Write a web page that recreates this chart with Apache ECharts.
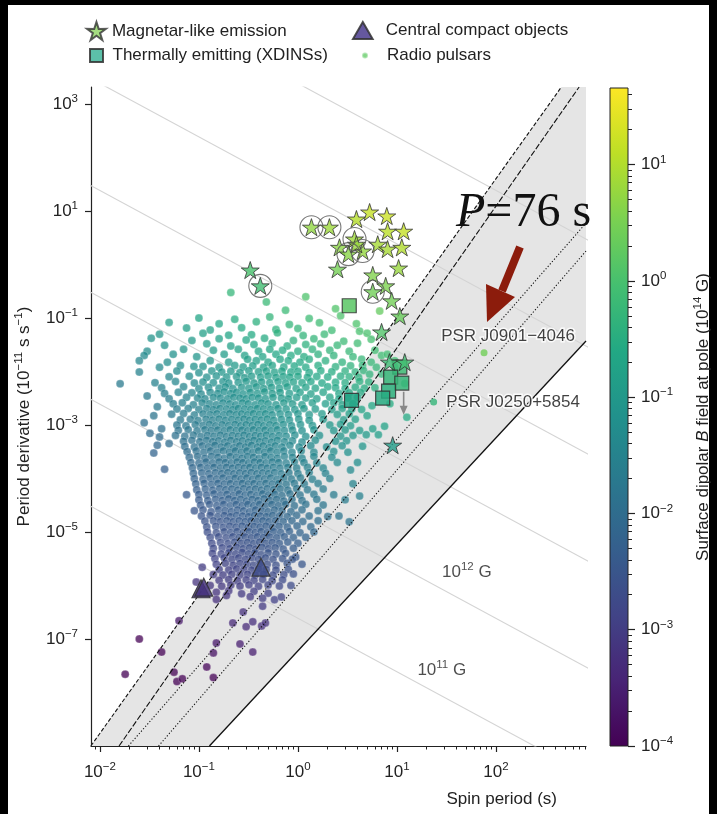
<!DOCTYPE html>
<html>
<head>
<meta charset="utf-8">
<script src="https://cdn.jsdelivr.net/npm/echarts@6.0.0/dist/echarts.min.js"></script>
<style>
html,body{margin:0;padding:0;background:#000;}
#paper{position:absolute;left:8px;top:5px;width:701px;height:809px;background:#fff;}
#chart{position:absolute;left:0;top:0;width:717px;height:814px;}
</style>
</head>
<body>
<div id="paper"></div>
<div id="chart"></div>
<script>
// ---------------- DATA ----------------
const xTickExponents = [-2, -1, 0, 1, 2];
const yTickExponents = [-7, -5, -3, -1, 1, 3];
const cbTickExponents = [-4, -3, -2, -1, 0, 1];

// Radio pulsars: [spin period P (s), period derivative (1e-11 s/s)]
const radioPulsars = [
[0.21,0.3],[0.48,0.2],[1.2,0.25],[0.75,0.14],[2.4,0.15],
[0.1,0.1],[0.23,0.095],[0.52,0.105],[1.3,0.098],[2.7,0.11],[6.7,0.135],
[0.05,0.083],[0.16,0.078],[0.38,0.085],[0.82,0.076],[1.65,0.082],[3.9,0.078],
[0.075,0.065],[0.13,0.06],[0.27,0.066],[0.6,0.061],[1.0,0.064],[2.2,0.059],[4.2,0.057],
[0.04,0.05],[0.11,0.052],[0.2,0.048],[0.34,0.049],[0.62,0.053],[1.13,0.047],[1.85,0.05],[5.0,0.052],
[0.033,0.042],[0.085,0.038],[0.16,0.041],[0.3,0.039],[0.46,0.042],[0.9,0.038],[1.45,0.041],[2.9,0.037],[5.5,0.04],
[0.045,0.031],[0.12,0.033],[0.21,0.03],[0.36,0.032],[0.55,0.034],[0.78,0.03],[1.2,0.032],[1.7,0.033],[2.5,0.031],[4.0,0.034],
[0.03,0.024],[0.07,0.026],[0.14,0.025],[0.25,0.026],[0.4,0.024],[0.52,0.026],[0.7,0.025],[1.0,0.024],[1.4,0.026],[2.1,0.025],[3.3,0.024],[6.0,0.025],
[0.028,0.02],[0.055,0.021],[0.095,0.019],[0.18,0.021],[0.29,0.02],[0.44,0.019],[0.6,0.021],[0.85,0.02],[1.15,0.019],[1.6,0.021],[2.3,0.02],[3.6,0.019],[7.0,0.02],[8,0.021],
[0.025,0.016],[0.048,0.015],[0.089,0.0125],[0.13,0.016],[0.2,0.015],[0.31,0.017],[0.38,0.016],[0.5,0.015],[0.66,0.017],[0.8,0.016],[1.05,0.015],[1.3,0.017],[1.9,0.016],[2.8,0.015],[4.4,0.017],[5.5,0.015],[9.5,0.016],
[0.04,0.012],[0.065,0.013],[0.11,0.0125],[0.16,0.012],[0.23,0.013],[0.28,0.0122],[0.35,0.0128],[0.45,0.012],[0.55,0.013],[0.72,0.0122],[0.92,0.0127],[1.2,0.012],[1.6,0.013],[2.4,0.0123],[3.4,0.0128],[4.5,0.013],[6.2,0.012],
[0.025,0.0098],[0.06,0.0102],[0.1,0.0095],[0.135,0.0103],[0.17,0.0098],[0.21,0.0101],[0.26,0.0096],[0.32,0.0104],[0.4,0.0099],[0.48,0.0102],[0.58,0.0097],[0.69,0.0103],[0.85,0.0098],[1.0,0.0101],[1.3,0.0096],[1.7,0.0104],[2.2,0.0099],[3.0,0.0102],[3.8,0.0098],[4.6,0.0105],[5.3,0.0089],
[0.05,8e-3],[0.08,8.2e-3],[0.12,7.8e-3],[0.15,8.3e-3],[0.19,7.9e-3],[0.24,8.1e-3],[0.29,7.7e-3],[0.34,8.2e-3],[0.42,7.9e-3],[0.5,8.3e-3],[0.6,7.8e-3],[0.71,8.1e-3],[0.83,7.9e-3],[1.0,8.2e-3],[1.25,7.8e-3],[1.55,8.1e-3],[2.0,7.9e-3],[2.7,8.2e-3],[3.3,8e-3],[4.1,7.8e-3],[7,9e-3],
[0.016,5.9e-3],[0.036,6.2e-3],[0.058,6.5e-3],[0.09,6.1e-3],[0.11,6.4e-3],[0.14,6.2e-3],[0.175,6.5e-3],[0.2,6.1e-3],[0.25,6.3e-3],[0.3,6.6e-3],[0.36,6.1e-3],[0.43,6.4e-3],[0.52,6.2e-3],[0.63,6.5e-3],[0.75,6.1e-3],[0.9,6.4e-3],[1.1,6.2e-3],[1.35,6.5e-3],[1.75,6.1e-3],[2.4,6.3e-3],[3.0,6.2e-3],[4.2,6.6e-3],[5.2,6.4e-3],[9.5,0.012],
[0.042,5e-3],[0.07,5.2e-3],[0.1,4.8e-3],[0.125,5.1e-3],[0.16,4.9e-3],[0.185,5.2e-3],[0.22,4.8e-3],[0.27,5.1e-3],[0.32,4.9e-3],[0.38,5.2e-3],[0.45,4.8e-3],[0.54,5.1e-3],[0.65,4.9e-3],[0.78,5.2e-3],[0.96,4.8e-3],[1.2,5.1e-3],[1.5,4.9e-3],[2.0,5.2e-3],[2.4,5e-3],[3.0,4.8e-3],[3.8,5.1e-3],[4.7,4.9e-3],[6,5e-3],
[0.045,3.9e-3],[0.062,4.1e-3],[0.085,4e-3],[0.105,3.8e-3],[0.13,4.1e-3],[0.155,3.9e-3],[0.18,4.2e-3],[0.21,3.9e-3],[0.24,4.1e-3],[0.28,3.8e-3],[0.33,4.1e-3],[0.39,3.9e-3],[0.46,4.2e-3],[0.55,3.9e-3],[0.66,4.1e-3],[0.82,3.9e-3],[1.05,4.1e-3],[1.35,3.8e-3],[1.8,4.1e-3],[2.6,3.9e-3],[3.3,4.0e-3],[4.3,4.1e-3],[12,6e-3],
[0.03,3.5e-3],[0.05,3.1e-3],[0.075,3.3e-3],[0.097,3.2e-3],[0.115,3.1e-3],[0.14,3.3e-3],[0.165,3.2e-3],[0.195,3.1e-3],[0.225,3.3e-3],[0.26,3.2e-3],[0.3,3.1e-3],[0.345,3.3e-3],[0.4,3.2e-3],[0.47,3.1e-3],[0.56,3.3e-3],[0.68,3.2e-3],[0.8,3.1e-3],[0.97,3.3e-3],[1.2,3.2e-3],[1.55,3.1e-3],[2.1,3.3e-3],[2.6,3.1e-3],[3.2,3.2e-3],[4.0,3.3e-3],
[0.038,2.2e-3],[0.055,2.5e-3],[0.068,2.6e-3],[0.088,2.4e-3],[0.108,2.6e-3],[0.128,2.5e-3],[0.15,2.4e-3],[0.175,2.6e-3],[0.205,2.5e-3],[0.235,2.4e-3],[0.275,2.6e-3],[0.315,2.5e-3],[0.37,2.4e-3],[0.43,2.6e-3],[0.5,2.5e-3],[0.6,2.4e-3],[0.72,2.6e-3],[0.88,2.5e-3],[1.1,2.4e-3],[1.4,2.6e-3],[1.9,2.5e-3],[2.3,2.6e-3],[2.8,2.4e-3],[3.6,2.5e-3],[5.6,2.3e-3],[8.5,2.5e-3],
[0.06,2e-3],[0.078,2.05e-3],[0.1,1.95e-3],[0.12,2.05e-3],[0.14,1.95e-3],[0.163,2.05e-3],[0.19,2e-3],[0.22,1.95e-3],[0.25,2.05e-3],[0.29,2e-3],[0.335,1.95e-3],[0.39,2.05e-3],[0.45,2e-3],[0.53,1.95e-3],[0.63,2.05e-3],[0.76,2e-3],[0.93,1.95e-3],[1.15,2.05e-3],[1.5,2e-3],[2.2,1.95e-3],[2.8,2.05e-3],[3.5,2e-3],[4.4,1.95e-3],
[0.035,1.5e-3],[0.053,1.6e-3],[0.07,1.65e-3],[0.09,1.55e-3],[0.11,1.62e-3],[0.13,1.57e-3],[0.152,1.63e-3],[0.178,1.56e-3],[0.205,1.64e-3],[0.238,1.57e-3],[0.27,1.62e-3],[0.31,1.56e-3],[0.355,1.64e-3],[0.41,1.58e-3],[0.47,1.63e-3],[0.55,1.56e-3],[0.66,1.62e-3],[0.8,1.58e-3],[1.0,1.64e-3],[1.3,1.56e-3],[1.75,1.62e-3],[2.5,1.58e-3],[3.3,1.62e-3],[5,1.5e-3],[12.6,1.4e-3],
[0.028,1.1e-3],[0.065,1.25e-3],[0.082,1.28e-3],[0.098,1.22e-3],[0.118,1.29e-3],[0.138,1.24e-3],[0.16,1.3e-3],[0.186,1.23e-3],[0.215,1.28e-3],[0.25,1.24e-3],[0.285,1.3e-3],[0.325,1.23e-3],[0.37,1.28e-3],[0.425,1.24e-3],[0.49,1.3e-3],[0.57,1.23e-3],[0.68,1.28e-3],[0.82,1.24e-3],[1.02,1.3e-3],[1.3,1.23e-3],[1.8,1.28e-3],[2.9,1.25e-3],[3.8,1.28e-3],
[0.06,1e-3],[0.074,9.7e-4],[0.092,1.02e-3],[0.11,9.8e-4],[0.128,1.03e-3],[0.148,9.7e-4],[0.172,1.02e-3],[0.2,9.8e-4],[0.232,1.03e-3],[0.265,9.7e-4],[0.3,1.02e-3],[0.345,9.8e-4],[0.395,1.03e-3],[0.45,9.7e-4],[0.52,1.02e-3],[0.6,9.8e-4],[0.71,1.03e-3],[0.86,9.7e-4],[1.06,1.02e-3],[1.4,9.8e-4],[2.1,1.0e-3],[2.7,1.03e-3],[3.4,9.7e-4],[7.5,9.5e-4],
[0.042,8.5e-4],[0.062,8e-4],[0.078,8.2e-4],[0.096,7.8e-4],[0.115,8.2e-4],[0.133,7.9e-4],[0.155,8.1e-4],[0.18,7.8e-4],[0.207,8.2e-4],[0.238,7.9e-4],[0.272,8.1e-4],[0.31,7.8e-4],[0.355,8.2e-4],[0.405,7.9e-4],[0.465,8.1e-4],[0.535,7.8e-4],[0.62,8.2e-4],[0.73,7.9e-4],[0.88,8.1e-4],[1.1,7.8e-4],[1.45,8.2e-4],[2.3,7.9e-4],[3.0,8.1e-4],[4.2,7.9e-4],[5.7,8.5e-4],
[0.032,7e-4],[0.04,6e-4],[0.058,6.4e-4],[0.072,6.2e-4],[0.088,6.5e-4],[0.105,6.1e-4],[0.122,6.4e-4],[0.142,6.2e-4],[0.165,6.5e-4],[0.19,6.1e-4],[0.218,6.4e-4],[0.25,6.2e-4],[0.285,6.5e-4],[0.325,6.1e-4],[0.37,6.4e-4],[0.42,6.2e-4],[0.48,6.5e-4],[0.555,6.1e-4],[0.645,6.4e-4],[0.76,6.2e-4],[0.93,6.5e-4],[1.2,6.1e-4],[1.65,6.4e-4],[2.7,6.2e-4],[3.6,6.4e-4],[4.9,6.6e-4],[6.5,6.6e-4],
[0.05,4.5e-4],[0.07,5e-4],[0.085,5.2e-4],[0.102,4.9e-4],[0.12,5.2e-4],[0.138,4.9e-4],[0.158,5.1e-4],[0.182,4.8e-4],[0.21,5.2e-4],[0.24,4.9e-4],[0.275,5.1e-4],[0.315,4.8e-4],[0.36,5.2e-4],[0.41,4.9e-4],[0.47,5.1e-4],[0.54,4.8e-4],[0.62,5.2e-4],[0.73,4.9e-4],[0.88,5.1e-4],[1.1,4.8e-4],[1.5,5.2e-4],[2.4,5.0e-4],[3.1,5.1e-4],
[0.038,4.2e-4],[0.072,4e-4],[0.09,3.9e-4],[0.108,4.1e-4],[0.125,3.9e-4],[0.145,4.2e-4],[0.168,3.9e-4],[0.195,4.1e-4],[0.225,3.8e-4],[0.258,4.1e-4],[0.295,3.9e-4],[0.34,4.2e-4],[0.39,3.9e-4],[0.445,4.1e-4],[0.51,3.8e-4],[0.59,4.1e-4],[0.69,3.9e-4],[0.83,4.2e-4],[1.03,3.9e-4],[1.35,4.1e-4],[1.95,3.9e-4],[2.8,4.1e-4],[4.5,4e-4],
[0.035,3e-4],[0.076,3.2e-4],[0.094,3.3e-4],[0.112,3.1e-4],[0.131,3.3e-4],[0.152,3.1e-4],[0.176,3.3e-4],[0.203,3.1e-4],[0.233,3.3e-4],[0.268,3.1e-4],[0.305,3.3e-4],[0.35,3.1e-4],[0.4,3.3e-4],[0.46,3.1e-4],[0.53,3.3e-4],[0.615,3.1e-4],[0.72,3.3e-4],[0.87,3.1e-4],[1.08,3.3e-4],[1.45,3.1e-4],[2.3,3.2e-4],[3.2,3.1e-4],
[0.08,2.5e-4],[0.097,2.6e-4],[0.115,2.4e-4],[0.134,2.6e-4],[0.156,2.5e-4],[0.18,2.4e-4],[0.207,2.6e-4],[0.238,2.5e-4],[0.272,2.4e-4],[0.31,2.6e-4],[0.355,2.5e-4],[0.405,2.4e-4],[0.465,2.6e-4],[0.535,2.5e-4],[0.62,2.4e-4],[0.73,2.6e-4],[0.88,2.5e-4],[1.1,2.4e-4],[1.45,2.6e-4],[2.2,2.5e-4],[4,2e-4],
[0.083,2e-4],[0.1,1.95e-4],[0.118,2.05e-4],[0.138,1.95e-4],[0.16,2.05e-4],[0.185,2e-4],[0.212,1.95e-4],[0.243,2.05e-4],[0.278,2e-4],[0.318,1.95e-4],[0.363,2.05e-4],[0.415,2e-4],[0.475,1.95e-4],[0.55,2.05e-4],[0.64,2e-4],[0.76,1.95e-4],[0.92,2.05e-4],[1.15,2e-4],[1.55,1.95e-4],[2.5,2e-4],
[0.045,1.5e-4],[0.086,1.6e-4],[0.104,1.63e-4],[0.122,1.57e-4],[0.142,1.63e-4],[0.165,1.57e-4],[0.19,1.63e-4],[0.218,1.57e-4],[0.25,1.63e-4],[0.286,1.57e-4],[0.327,1.63e-4],[0.373,1.57e-4],[0.427,1.63e-4],[0.49,1.57e-4],[0.565,1.63e-4],[0.66,1.57e-4],[0.79,1.63e-4],[0.97,1.57e-4],[1.25,1.63e-4],[1.8,1.57e-4],[3.4,1.45e-4],
[0.088,1.25e-4],[0.107,1.28e-4],[0.126,1.23e-4],[0.147,1.29e-4],[0.17,1.24e-4],[0.196,1.3e-4],[0.225,1.23e-4],[0.258,1.28e-4],[0.295,1.24e-4],[0.337,1.3e-4],[0.385,1.23e-4],[0.44,1.28e-4],[0.505,1.24e-4],[0.58,1.3e-4],[0.68,1.23e-4],[0.81,1.28e-4],[1.0,1.24e-4],[1.3,1.3e-4],[1.9,1.25e-4],
[0.09,1e-4],[0.11,9.7e-5],[0.13,1.02e-4],[0.151,9.8e-5],[0.175,1.03e-4],[0.202,9.7e-5],[0.232,1.02e-4],[0.266,9.8e-5],[0.305,1.03e-4],[0.348,9.7e-5],[0.4,1.02e-4],[0.46,9.8e-5],[0.53,1.03e-4],[0.615,9.7e-5],[0.72,1.02e-4],[0.86,9.8e-5],[1.06,1.03e-4],[1.4,9.7e-5],[2.1,1.0e-4],[3.6,8e-5],
[0.093,8e-5],[0.113,8.2e-5],[0.134,7.8e-5],[0.156,8.2e-5],[0.18,7.9e-5],[0.208,8.1e-5],[0.24,7.8e-5],[0.275,8.2e-5],[0.315,7.9e-5],[0.36,8.1e-5],[0.413,7.8e-5],[0.475,8.2e-5],[0.55,7.9e-5],[0.64,8.1e-5],[0.76,7.8e-5],[0.92,8.2e-5],[1.16,7.9e-5],[1.6,8.1e-5],
[0.095,6.2e-5],[0.116,6.4e-5],[0.138,6.1e-5],[0.162,6.5e-5],[0.187,6.2e-5],[0.215,6.4e-5],[0.247,6.1e-5],[0.283,6.5e-5],[0.325,6.2e-5],[0.372,6.4e-5],[0.427,6.1e-5],[0.49,6.5e-5],[0.57,6.2e-5],[0.665,6.4e-5],[0.79,6.1e-5],[0.97,6.5e-5],[1.25,6.2e-5],[1.8,6.4e-5],
[0.075,5e-5],[0.1,5.1e-5],[0.12,4.9e-5],[0.142,5.2e-5],[0.166,4.9e-5],[0.192,5.1e-5],[0.222,4.8e-5],[0.255,5.2e-5],[0.292,4.9e-5],[0.334,5.1e-5],[0.382,4.8e-5],[0.44,5.2e-5],[0.505,4.9e-5],[0.585,5.1e-5],[0.69,4.8e-5],[0.83,5.2e-5],[1.05,4.9e-5],[1.45,5.1e-5],[2.3,5e-5],[4.2,4.7e-5],
[0.1,4e-5],[0.123,3.9e-5],[0.147,4.1e-5],[0.172,3.9e-5],[0.2,4.2e-5],[0.23,3.9e-5],[0.264,4.1e-5],[0.302,3.8e-5],[0.345,4.1e-5],[0.395,3.9e-5],[0.455,4.2e-5],[0.525,3.9e-5],[0.61,4.1e-5],[0.72,3.8e-5],[0.87,4.1e-5],[1.1,3.9e-5],[1.55,4.1e-5],[3.0,4e-5],
[0.104,3.2e-5],[0.128,3.3e-5],[0.152,3.1e-5],[0.178,3.3e-5],[0.207,3.1e-5],[0.238,3.3e-5],[0.273,3.1e-5],[0.312,3.3e-5],[0.357,3.1e-5],[0.41,3.3e-5],[0.47,3.1e-5],[0.545,3.3e-5],[0.635,3.1e-5],[0.75,3.3e-5],[0.92,3.1e-5],[1.2,3.3e-5],[1.8,3.2e-5],
[0.09,2.5e-5],[0.11,2.6e-5],[0.133,2.4e-5],[0.158,2.6e-5],[0.184,2.5e-5],[0.213,2.4e-5],[0.246,2.6e-5],[0.283,2.5e-5],[0.325,2.4e-5],[0.373,2.6e-5],[0.43,2.5e-5],[0.5,2.4e-5],[0.58,2.6e-5],[0.69,2.5e-5],[0.85,2.4e-5],[1.1,2.6e-5],[1.6,2.5e-5],[2.6,2e-5],
[0.106,2e-5],[0.13,2.05e-5],[0.155,1.95e-5],[0.18,2.05e-5],[0.208,1.95e-5],[0.24,2.05e-5],[0.276,2e-5],[0.317,1.95e-5],[0.364,2.05e-5],[0.418,2e-5],[0.48,1.95e-5],[0.555,2.05e-5],[0.65,2e-5],[0.78,1.95e-5],[0.97,2.05e-5],[1.3,2e-5],[2.0,1.95e-5],
[0.115,1.6e-5],[0.14,1.63e-5],[0.165,1.57e-5],[0.192,1.63e-5],[0.222,1.57e-5],[0.255,1.63e-5],[0.293,1.57e-5],[0.336,1.63e-5],[0.386,1.57e-5],[0.443,1.63e-5],[0.51,1.57e-5],[0.595,1.63e-5],[0.71,1.57e-5],[0.87,1.63e-5],[1.12,1.57e-5],[1.6,1.63e-5],[3.3,1.55e-5],
[0.12,1.25e-5],[0.148,1.28e-5],[0.176,1.23e-5],[0.205,1.29e-5],[0.237,1.24e-5],[0.273,1.3e-5],[0.314,1.23e-5],[0.36,1.28e-5],[0.414,1.24e-5],[0.476,1.3e-5],[0.55,1.23e-5],[0.645,1.28e-5],[0.78,1.24e-5],[0.98,1.3e-5],[1.35,1.25e-5],
[0.122,1e-5],[0.15,9.7e-6],[0.18,1.02e-5],[0.21,9.8e-6],[0.243,1.03e-5],[0.28,9.7e-6],[0.322,1.02e-5],[0.37,9.8e-6],[0.425,1.03e-5],[0.49,9.7e-6],[0.57,1.02e-5],[0.67,9.8e-6],[0.82,1.03e-5],[1.05,9.7e-6],[1.45,1e-5],
[0.13,8e-6],[0.158,8.2e-6],[0.188,7.8e-6],[0.22,8.2e-6],[0.255,7.9e-6],[0.294,8.1e-6],[0.338,7.8e-6],[0.39,8.2e-6],[0.45,7.9e-6],[0.52,8.1e-6],[0.61,7.8e-6],[0.73,8.2e-6],[0.9,7.9e-6],[1.2,8e-6],
[0.135,6.2e-6],[0.165,6.4e-6],[0.197,6.1e-6],[0.23,6.5e-6],[0.268,6.2e-6],[0.31,6.4e-6],[0.357,6.1e-6],[0.41,6.5e-6],[0.475,6.2e-6],[0.55,6.4e-6],[0.65,6.1e-6],[0.79,6.5e-6],[1.0,6.2e-6],
[0.14,5e-6],[0.172,5.1e-6],[0.205,4.9e-6],[0.24,5.2e-6],[0.28,4.9e-6],[0.325,5.1e-6],[0.375,4.8e-6],[0.435,5.2e-6],[0.505,4.9e-6],[0.59,5.1e-6],[0.71,4.8e-6],[0.9,5.0e-6],
[0.137,4e-6],[0.168,3.9e-6],[0.2,4.1e-6],[0.235,3.9e-6],[0.273,4.2e-6],[0.317,3.9e-6],[0.367,4.1e-6],[0.425,3.8e-6],[0.5,4.1e-6],[0.6,3.9e-6],[0.75,4.0e-6],[0.95,3.4e-6],
[0.145,3.2e-6],[0.18,3.3e-6],[0.215,3.1e-6],[0.252,3.3e-6],[0.295,3.1e-6],[0.345,3.3e-6],[0.4,3.1e-6],[0.47,3.3e-6],[0.56,3.1e-6],[0.7,3.2e-6],[0.88,3.1e-6],
[0.108,2.2e-6],[0.15,2.5e-6],[0.185,2.6e-6],[0.222,2.4e-6],[0.26,2.6e-6],[0.305,2.5e-6],[0.355,2.4e-6],[0.415,2.6e-6],[0.49,2.5e-6],[0.6,2.4e-6],[0.78,2.6e-6],[1.1,2.5e-6],
[0.16,2e-6],[0.2,1.95e-6],[0.24,2.05e-6],[0.285,2e-6],[0.34,1.95e-6],[0.4,2.05e-6],[0.48,2e-6],[0.6,1.95e-6],[0.8,2e-6],
[0.14,1.6e-6],[0.175,1.57e-6],[0.215,1.63e-6],[0.26,1.57e-6],[0.31,1.63e-6],[0.37,1.57e-6],[0.45,1.63e-6],[0.56,1.57e-6],[0.72,1.6e-6],[0.9,1.65e-6],
[0.094,1.16e-6],[0.16,1.25e-6],[0.2,1.3e-6],[0.245,1.23e-6],[0.3,1.28e-6],[0.36,1.24e-6],[0.44,1.3e-6],[0.55,1.23e-6],[0.7,1.28e-6],
[0.13,1e-6],[0.17,9.7e-7],[0.21,1.02e-6],[0.26,9.8e-7],[0.32,1.03e-6],[0.4,9.7e-7],[0.5,1.02e-6],[0.65,9.8e-7],[0.85,1e-6],
[0.15,7.5e-7],[0.2,8e-7],[0.27,7e-7],[0.36,7.8e-7],[0.5,7.2e-7],
[0.15,5.5e-7],[0.19,6.5e-7],[0.33,6.2e-7],[0.44,5.8e-7],[0.58,5.4e-7],[0.68,6.1e-7],[0.44,4.1e-7],[0.28,3.2e-7],[0.063,2.2e-7],[0.22,2e-7],[0.3,1.7e-7],[0.35,2.1e-7],[0.43,1.75e-7],[0.47,2e-7],
[0.025,1e-7],[0.15,8.4e-8],[0.26,8.1e-8],[0.042,5.7e-8],[0.14,5.5e-8],[0.35,5.7e-8],[0.12,3e-8],[0.018,2.2e-8],[0.056,2.4e-8],[0.06,1.6e-8],[0.068,1.8e-8],[0.14,1.9e-8]
];

// Labelled long-period radio pulsars
const labelledPulsars = [
  { name: 'PSR J0901\u22124046', P: 75.9, Pdot: 0.0225 },
  { name: 'PSR J0250+5854', P: 23.5, Pdot: 2.7e-3 }
];

// Magnetar-like emission (stars)
const magnetars = [
[0.33,0.79],[0.417,0.40],[1.37,5.0],[2.08,5.0],[3.9,7.1],[5.3,9.6],[7.9,8.1],[3.73,3.0],[2.63,2.1],[3.24,1.57],
[4.5,1.79],[3.9,2.4],[6.4,2.4],[8.05,4.2],[11.7,4.2],[8.05,1.95],[11.2,2.1],[2.51,0.82],[5.7,0.64],[7.7,0.40],
[10.4,0.86],[5.7,0.31],[8.85,0.21],[10.7,0.109],[7.0,0.055],[8.4,0.015],[12.0,0.015],[9.06,4.2e-4]
];
// Circled magnetars (radio-detected)
const circledMagnetars = [[0.417,0.40],[1.37,5.0],[2.08,5.0],[3.73,3.0],[3.24,1.57],[4.5,1.79],[5.7,0.31]];

// Thermally emitting isolated neutron stars (XDINSs)
const xdins = [[3.3,0.17],[10.7,0.0121],[8.65,7.9e-3],[11.2,6.1e-3],[8.24,4.3e-3],[7.18,3.2e-3],[3.48,2.9e-3]];
// Upper-limit arrow for one XDINS: [P, from Pdot, to Pdot]
const xdinsUpperLimit = [11.7, 4.2e-3, 1.9e-3];

// Central compact objects
const ccos = [[0.105,8.7e-7],[0.112,9.3e-7],[0.424,2.2e-6]];

// Death lines (two end points each): [P, Pdot]
const deathLineDashed = [[0.0081,1e-9],[459,2090]];
const deathLineLongDash = [[0.0156,1e-9],[693,2090]];
const deathLineDotted1 = [[0.0194,1e-9],[813,5.97]];
const deathLineDotted2 = [[0.0391,1e-9],[813,1.79]];
const deathLineSolid = [[0.1277,1e-9],[813,0.0372]];

// Constant surface field lines (gauss at pole)
const bLineFields = [1e11, 1e12, 1e13, 1e14, 1e15, 1e16];
const bLineLabels = [
  { text: '10{sup|12} G', P: 50.8, Pdot: 1.8e-6 },
  { text: '10{sup|11} G', P: 28.4, Pdot: 2.65e-8 }
];

// ---------------- helpers ----------------
const FONT = "'Liberation Sans', Arial, Helvetica, sans-serif";
const FS = 17;
const L = Math.log10;
const X_MIN = -2.09, X_MAX = 2.91, Y_MIN = -9, Y_MAX = 3.32;
const CB_MIN = -4, CB_MAX = 1.66;
const B_COEF = 6.4e19; // B_pole = 6.4e19 sqrt(P Pdot) G

const viridis = ['#440154','#482475','#414487','#355f8d','#2a788e','#21918c','#22a884','#44bf70','#7ad151','#bddf26','#fde725'];
function hex(h){ return [parseInt(h.slice(1,3),16),parseInt(h.slice(3,5),16),parseInt(h.slice(5,7),16)]; }
function viridisAt(t){
  t = Math.max(0, Math.min(1, t));
  const s = t * 10, i = Math.min(9, Math.floor(s)), f = s - i;
  const a = hex(viridis[i]), b = hex(viridis[i+1]);
  const c = a.map((v,k)=>Math.round(v + (b[k]-v)*f));
  return 'rgb(' + c.join(',') + ')';
}
function logB14(P, Pd){ return L(B_COEF * Math.sqrt(P * Pd * 1e-11)) - 14; }
function colorOf(P, Pd){ return viridisAt((logB14(P, Pd) - CB_MIN) / (CB_MAX - CB_MIN)); }
function pts(arr){ return arr.map(p => ({ value: [L(p[0]), L(p[1])], itemStyle: { color: colorOf(p[0], p[1]) } })); }
function expLabel(v){ const e = Math.round(v); return '10{sup|' + (e < 0 ? '\u2212' + (-e) : e) + '}'; }
const supRich = { sup: { fontSize: 11.5, lineHeight: 12, verticalAlign: 'top', fontFamily: FONT, color: '#222' } };

function minorTicks(lo, hi){
  const out = [];
  for (let e = Math.floor(lo) - 1; e <= Math.ceil(hi); e++)
    for (let k = 2; k <= 9; k++) { const v = e + L(k); if (v > lo && v < hi) out.push(v); }
  return out;
}
const xMinor = minorTicks(X_MIN, X_MAX);
const cbMinor = minorTicks(CB_MIN, CB_MAX);

const STAR = 'path://M50,0 L61.17,34.63 L97.55,34.55 L68.07,55.87 L79.39,90.45 L50,69 L20.61,90.45 L31.93,55.87 L2.45,34.55 L38.83,34.63 Z';
const TRI_ICON = 'path://M50,0 L100,86.6 L0,86.6 Z';
const SQUARE_ICON = 'path://M0,0 L100,0 L100,100 L0,100 Z';
const DOT_ICON = 'path://M50,0 A50,50 0 1 1 49.99,0 Z';

function lineSeries(points, type, width, z){
  return { type: 'line', xAxisIndex: 0, yAxisIndex: 0, data: points.map(p => [L(p[0]), L(p[1])]),
    symbol: 'none', silent: true, clip: true, z: z,
    lineStyle: { color: '#111', width: width, type: type } };
}
const bLineSeries = bLineFields.map(B => {
  const logC = 2 * L(B / B_COEF) + 11;
  return { type: 'line', xAxisIndex: 0, yAxisIndex: 0, symbol: 'none', silent: true, clip: true, z: 2,
    data: [[X_MIN - 0.2, logC - (X_MIN - 0.2)], [X_MAX + 0.2, logC - (X_MAX + 0.2)]],
    lineStyle: { color: '#d4d4d4', width: 1.1 } };
});

const shadePoly = [
  [L(deathLineDashed[0][0]), L(deathLineDashed[0][1])],
  [L(deathLineSolid[0][0]), L(deathLineSolid[0][1])],
  [L(deathLineSolid[1][0]), L(deathLineSolid[1][1])],
  [X_MAX + 0.05, Y_MAX + 0.05],
  [L(deathLineDashed[1][0]), L(deathLineDashed[1][1])]
];

const axisColor = '#222';
const labelStyle = { fontSize: FS, color: '#222', fontFamily: FONT, lineHeight: 22, rich: supRich };
const legendText = { fontSize: FS, color: '#222', fontFamily: FONT };
const legendBase = { padding: 0, textStyle: legendText, symbolKeepAspect: true };

const chart = echarts.init(document.getElementById('chart'));
chart.setOption({
  animation: false,
  textStyle: { fontFamily: FONT },
  grid: [
    { left: 91, top: 87, width: 495, height: 659 },
    { left: 610, top: 88, width: 18, height: 658 }
  ],
  xAxis: [
    { type: 'value', gridIndex: 0, min: X_MIN, max: X_MAX, position: 'bottom',
      axisLine: { onZero: false, lineStyle: { color: axisColor, width: 1.2 } },
      axisTick: { customValues: xTickExponents, length: 6, lineStyle: { color: axisColor, width: 1.2 } },
      axisLabel: Object.assign({ customValues: xTickExponents, formatter: expLabel, margin: 15 }, labelStyle),
      splitLine: { show: false } },
    { type: 'value', gridIndex: 0, min: X_MIN, max: X_MAX, position: 'bottom',
      axisLine: { show: false, onZero: false },
      axisTick: { customValues: xMinor, length: 3.5, lineStyle: { color: axisColor, width: 1 } },
      axisLabel: { show: false }, splitLine: { show: false } },
    { type: 'value', gridIndex: 1, min: 0, max: 1, show: false }
  ],
  yAxis: [
    { type: 'value', gridIndex: 0, min: Y_MIN, max: Y_MAX, position: 'left',
      axisLine: { onZero: false, lineStyle: { color: axisColor, width: 1.2 } },
      axisTick: { customValues: yTickExponents, length: 6, lineStyle: { color: axisColor, width: 1.2 } },
      axisLabel: Object.assign({ customValues: yTickExponents, formatter: expLabel, margin: 13 }, labelStyle),
      splitLine: { show: false },
      name: 'Period derivative (10{sup|\u221211} s s{sup|\u22121})',
      nameLocation: 'middle', nameGap: 56,
      nameTextStyle: { fontSize: FS, color: '#222', fontFamily: FONT, lineHeight: 22, rich: supRich } },
    { type: 'value', gridIndex: 1, min: CB_MIN, max: CB_MAX, position: 'right',
      axisLine: { show: false, onZero: false },
      axisTick: { customValues: cbTickExponents, length: 7, lineStyle: { color: axisColor, width: 1.2 } },
      axisLabel: Object.assign({ customValues: cbTickExponents, formatter: expLabel, margin: 13 }, labelStyle),
      splitLine: { show: false },
      name: 'Surface dipolar {it|B} field at pole (10{sup|14} G)',
      nameLocation: 'middle', nameGap: 64, nameRotate: 90,
      nameTextStyle: { fontSize: FS, color: '#222', fontFamily: FONT, lineHeight: 22,
        rich: { sup: supRich.sup, it: { fontStyle: 'italic', fontSize: FS, fontFamily: FONT, color: '#222' } } } },
    { type: 'value', gridIndex: 1, min: CB_MIN, max: CB_MAX, position: 'right',
      axisLine: { show: false, onZero: false },
      axisTick: { customValues: cbMinor, length: 4, lineStyle: { color: axisColor, width: 1 } },
      axisLabel: { show: false }, splitLine: { show: false } }
  ],
  legend: [
    Object.assign({ data: [{ name: 'Magnetar-like emission', icon: STAR }], left: 86, top: 21, itemWidth: 21, itemHeight: 18 }, legendBase),
    Object.assign({ data: [{ name: 'Thermally emitting (XDINSs)', icon: SQUARE_ICON }], left: 89, top: 47, itemWidth: 22, itemHeight: 13 }, legendBase),
    Object.assign({ data: [{ name: 'Central compact objects', icon: TRI_ICON }], left: 352, top: 21, itemWidth: 36, itemHeight: 17 }, legendBase),
    Object.assign({ data: [{ name: 'Radio pulsars', icon: DOT_ICON }], left: 361, top: 47, itemWidth: 34, itemHeight: 6 }, legendBase)
  ],
  graphic: [
    { type: 'text', left: 456, top: 189, z: 20,
      style: { text: '{i|P}{r|=76 s}', rich: {
        i: { fontStyle: 'italic', fontFamily: "'Liberation Serif', 'DejaVu Serif', serif", fontSize: 48, fill: '#111' },
        r: { fontFamily: "'Liberation Serif', 'DejaVu Serif', serif", fontSize: 48, fill: '#111' } } } },
    { type: 'line', z: 20, shape: { x1: 520, y1: 247, x2: 502, y2: 291 }, style: { stroke: '#8c1c0c', lineWidth: 8 } },
    { type: 'polygon', z: 20, shape: { points: [[486, 284], [515, 297], [487, 322]] }, style: { fill: '#8c1c0c' } },
    { type: 'text', z: 20, style: { x: 557, y: 799, text: 'Spin period (s)', textAlign: 'right', textVerticalAlign: 'middle',
      fontSize: FS, fontFamily: FONT, fill: '#222' } }
  ],
  series: [
    { type: 'custom', name: 'shade', xAxisIndex: 0, yAxisIndex: 0, silent: true, clip: true, z: 1,
      data: [[0, 0]],
      renderItem: (params, api) => ({ type: 'polygon', shape: { points: shadePoly.map(p => api.coord(p)) },
        style: { fill: '#e5e5e5' } }) },
    ...bLineSeries,
    { type: 'scatter', name: 'Radio pulsars', xAxisIndex: 0, yAxisIndex: 0, z: 3,
      symbol: 'circle', symbolSize: 8, data: pts(radioPulsars),
      itemStyle: { color: '#5ec962', opacity: 0.75, borderColor: 'rgba(255,255,255,0.55)', borderWidth: 0.6 } },
    lineSeries(deathLineDashed, [4, 2], 1.1, 4),
    lineSeries(deathLineLongDash, [6, 2], 1.1, 4),
    lineSeries(deathLineDotted1, [1.2, 2], 1.1, 4),
    lineSeries(deathLineDotted2, [1.2, 2], 1.1, 4),
    lineSeries(deathLineSolid, 'solid', 1.3, 4),
    { type: 'scatter', name: 'Labelled pulsars', xAxisIndex: 0, yAxisIndex: 0, z: 5, symbolSize: 7,
      data: labelledPulsars.map((d, i) => ({ name: d.name, value: [L(d.P), L(d.Pdot)],
        itemStyle: { color: colorOf(d.P, d.Pdot) },
        label: i === 0 ? { position: 'top', distance: 4, offset: [24, 0] } : { position: 'right', distance: 9 } })),
      label: { show: true, formatter: p => p.name, fontSize: FS, color: '#111', fontFamily: FONT,
        textBorderColor: '#fff', textBorderWidth: 3 } },
    { type: 'scatter', name: 'Thermally emitting (XDINSs)', xAxisIndex: 0, yAxisIndex: 0, z: 5,
      symbol: 'rect', symbolSize: 14, data: pts(xdins),
      itemStyle: { color: '#3fb59a', opacity: 0.85, borderColor: '#333', borderWidth: 1.2 } },
    { type: 'line', name: 'XDINS limit', xAxisIndex: 0, yAxisIndex: 0, z: 5, silent: true,
      data: [ { value: [L(xdinsUpperLimit[0]), L(xdinsUpperLimit[1])], symbol: 'none' },
              { value: [L(xdinsUpperLimit[0]), L(xdinsUpperLimit[2])], symbol: 'triangle', symbolSize: [8, 9], symbolRotate: 180 } ],
      showSymbol: true, lineStyle: { color: '#888', width: 1.6 }, itemStyle: { color: '#888' } },
    { type: 'scatter', name: 'Central compact objects', xAxisIndex: 0, yAxisIndex: 0, z: 5,
      symbol: 'triangle', symbolSize: 18, data: pts(ccos),
      itemStyle: { color: '#4a3b8e', opacity: 0.85, borderColor: '#333', borderWidth: 1.2 } },
    { type: 'scatter', name: 'Magnetar-like emission', xAxisIndex: 0, yAxisIndex: 0, z: 6,
      symbol: STAR, symbolSize: 18, symbolKeepAspect: true, data: pts(magnetars),
      itemStyle: { color: '#8fd561', borderColor: '#333', borderWidth: 1 } },
    { type: 'scatter', name: 'Radio-detected magnetars', xAxisIndex: 0, yAxisIndex: 0, z: 7, silent: true,
      symbol: 'circle', symbolSize: 23, data: circledMagnetars.map(p => [L(p[0]), L(p[1])]),
      itemStyle: { color: 'rgba(0,0,0,0)', borderColor: '#555', borderWidth: 1.1 } },
    { type: 'scatter', name: 'Field labels', xAxisIndex: 0, yAxisIndex: 0, z: 5, silent: true,
      symbolSize: 1, itemStyle: { color: 'rgba(0,0,0,0)' },
      data: bLineLabels.map(d => ({ name: d.text, value: [L(d.P), L(d.Pdot)] })),
      label: { show: true, position: 'inside', formatter: p => p.name, fontSize: FS, color: '#222',
        fontFamily: FONT, lineHeight: 22, rich: supRich } },
    { type: 'custom', name: 'colorbar', xAxisIndex: 2, yAxisIndex: 1, silent: true, z: 2,
      data: [[0.5, 0]],
      renderItem: (params, api) => {
        const a = api.coord([0, CB_MIN]), b = api.coord([1, CB_MAX]);
        return { type: 'rect', shape: { x: a[0], y: b[1], width: b[0] - a[0], height: a[1] - b[1] },
          style: { fill: new echarts.graphic.LinearGradient(0, 1, 0, 0,
              viridis.map((c, i) => ({ offset: i / (viridis.length - 1), color: c }))),
            stroke: '#222', lineWidth: 1 } };
      } }
  ]
});
</script>
</body>
</html>
